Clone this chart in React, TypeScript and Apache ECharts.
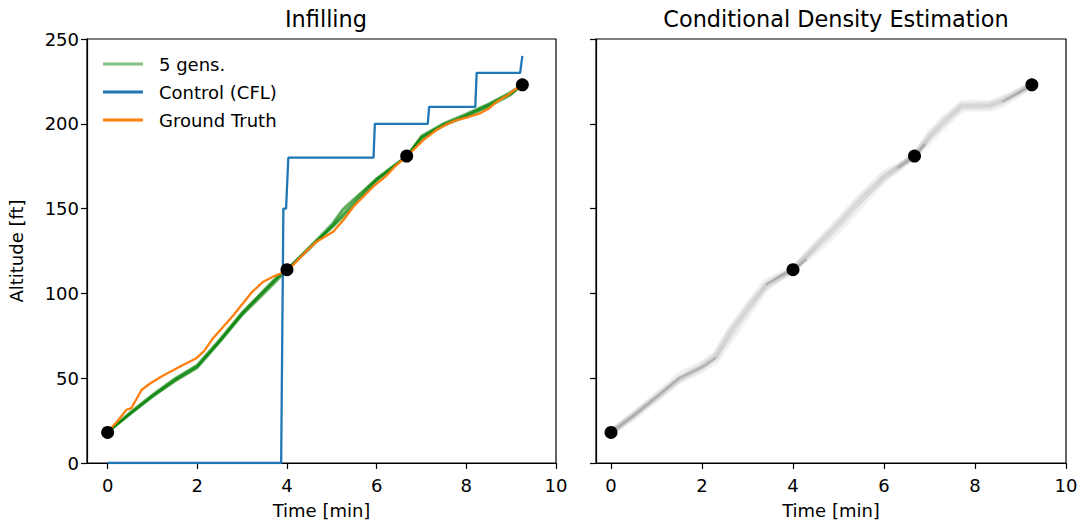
import React, { useEffect, useRef } from "react";
import * as echarts from "echarts";

// ---------- data ----------
const xTicks = [0, 2, 4, 6, 8, 10];

const obsTime = [0, 4, 6.67, 9.25];
const obsAlt = [18, 114, 181, 223];

const controlTime = [0, 3.87, 3.92, 3.98, 4.03, 5.93, 5.96, 7.14, 7.17, 8.2, 8.23, 9.2, 9.25];
const controlAlt = [0, 0, 150, 150, 180, 180, 200, 200, 210, 210, 230, 230, 240];

const truthTime = [0, 0.2, 0.42, 0.53, 0.76, 0.94, 1.2, 1.45, 1.69, 1.98, 2.15, 2.35, 2.58, 2.8, 3.02, 3.21, 3.47, 3.7, 3.92, 4, 4.14, 4.4, 4.66, 5.03, 5.25, 5.48, 5.7, 5.92, 6.2, 6.44, 6.68, 7.04, 7.33, 7.55, 7.78, 8.05, 8.3, 8.5, 8.67, 8.9, 9.12, 9.25];
const truthAlt = [18.6, 24, 31.4, 32.4, 43.2, 46.7, 51, 54.5, 57.9, 61.8, 66, 73.6, 80.4, 87, 94.2, 100.5, 106.9, 110, 112.3, 114, 116.8, 124, 130.5, 136.4, 143, 151.1, 157, 162.9, 169, 175.7, 181, 190.4, 196.3, 199.5, 202.2, 204, 206.1, 209, 212.9, 216.5, 220.8, 223];

const genTime = [0, 0.5, 1, 1.5, 2, 2.5, 3, 3.5, 3.8, 4, 4.5, 5, 5.25, 5.5, 6, 6.3, 6.67, 7, 7.5, 8, 8.5, 9, 9.25];
const gen1 = [18, 29, 39.5, 49, 57, 72, 88, 101, 109, 114, 127, 139, 146, 153, 167, 173, 181, 192, 199.5, 205, 211, 218, 223];
const gen2 = [18, 30, 40.5, 50, 58, 73, 89, 102, 110, 114, 126, 140, 149, 155, 168, 174, 181, 193, 200.5, 206, 212, 219, 223];
const gen3 = [18, 28.5, 39, 48, 56, 71, 87, 100, 108, 114, 127.5, 141, 150, 156, 167.5, 173.5, 181, 191, 199, 204.5, 210.5, 217.5, 223];
const gen4 = [18, 29.5, 40, 49.5, 57.5, 72.5, 88.5, 102.5, 110.5, 114, 126.5, 138.5, 145, 152, 166, 172.5, 181, 192.5, 200, 205.5, 211.5, 218.5, 223];
const gen5 = [18, 29, 39, 48.5, 56.5, 71.5, 87.5, 101.5, 109.5, 114, 127, 139.5, 147, 154, 167, 173, 181, 191.5, 199, 204, 210, 217, 223];
const gens = [gen1, gen2, gen3, gen4, gen5];

const densTime = [0, 0.5, 1, 1.5, 2, 2.3, 2.6, 3, 3.4, 4, 4.5, 5, 5.5, 6, 6.3, 6.67, 7, 7.3, 7.7, 8, 8.3, 8.6, 9, 9.25];
const densA = [18, 28, 39, 50, 56.5, 62, 75, 90, 105, 114, 127, 140, 155, 169, 174, 181, 192, 200, 210, 210, 210, 213, 219, 223];
const densB = [18, 29, 40, 52, 58.5, 64, 78, 93, 107, 114, 129, 143, 158, 171, 175, 181, 194, 203, 212, 212.5, 212, 215, 220, 223];
const densC = [18, 27, 37.5, 48.5, 55, 60, 72, 87, 103, 114, 125, 137, 152, 167, 173, 181, 190, 198, 208.5, 209, 209, 211.5, 218, 223];
const densD = [18, 28.5, 38.5, 49, 57, 63.5, 77, 91.5, 104, 114, 128, 141.5, 156, 168, 174.5, 181, 193, 201.5, 211, 211, 211.5, 214, 219.5, 223];
const densSamples = [densA, densB, densC, densD];
// darker core near the observations (null = gap)
const coreTime = [0, 0.5, 1, 1.5, 2, 2.3, 2.35, 3.4, 3.7, 4, 4.3, 4.35, 6.3, 6.67, 6.9, 6.95, 8.6, 9, 9.25];
const coreAlt = [18, 28, 39, 50, 56.5, 62, null, 105, 110, 114, 120, null, 174, 181, 188, null, 213, 219, 223];

// ---------- helpers ----------
const zip = (xs: number[], ys: (number | null)[]) => xs.map((x, i) => [x, ys[i] === null ? "-" : ys[i]]);
const FONT = "DejaVu Sans";

export default function App() {
  const ref = useRef<HTMLDivElement>(null);

  useEffect(() => {
    if (!ref.current) return;
    const chart = echarts.init(ref.current, undefined, { renderer: "svg" });

    const xAxisBase = (idx: number, min: number) => ({
      gridIndex: idx,
      type: "value",
      min,
      max: 10,
      axisLine: { show: true, onZero: false, lineStyle: { color: "#000", width: 1.2 } },
      axisTick: { show: true, length: 6, customValues: xTicks, lineStyle: { color: "#000", width: 1.2 } },
      axisLabel: { show: true, customValues: xTicks, color: "#000", fontSize: 18, fontFamily: FONT, margin: 13 },
      splitLine: { show: false },
      name: "Time [min]",
      nameLocation: "middle",
      nameGap: 38,
      nameTextStyle: { color: "#000", fontSize: 18, fontFamily: FONT },
    });

    const yAxisBase = (idx: number, labels: boolean) => ({
      gridIndex: idx,
      type: "value",
      min: 0,
      max: 250,
      interval: 50,
      axisLine: { show: true, onZero: false, lineStyle: { color: "#000", width: 1.2 } },
      axisTick: { show: true, length: 6, lineStyle: { color: "#000", width: 1.2 } },
      axisLabel: { show: labels, color: "#000", fontSize: 18, fontFamily: FONT, margin: 8 },
      splitLine: { show: false },
      name: labels ? "Altitude [ft]" : "",
      nameLocation: "middle",
      nameGap: 62,
      nameTextStyle: { color: "#000", fontSize: 18, fontFamily: FONT },
    });

    const series: any[] = [];
    gens.forEach((g) => {
      series.push({
        name: "5 gens.",
        type: "line",
        xAxisIndex: 0,
        yAxisIndex: 0,
        data: zip(genTime, g),
        showSymbol: false,
        symbol: "none",
        itemStyle: { color: "rgba(0,128,0,0.5)" },
        lineStyle: { color: "rgba(0,128,0,0.5)", width: 2.3 },
        z: 2,
      });
    });
    series.push({
      name: "Control (CFL)",
      type: "line",
      xAxisIndex: 0,
      yAxisIndex: 0,
      data: zip(controlTime, controlAlt),
      showSymbol: false,
      symbol: "none",
      itemStyle: { color: "#1f77b4" },
      lineStyle: { color: "#1f77b4", width: 2.3 },
      z: 3,
    });
    series.push({
      name: "Ground Truth",
      type: "line",
      xAxisIndex: 0,
      yAxisIndex: 0,
      data: zip(truthTime, truthAlt),
      showSymbol: false,
      symbol: "none",
      itemStyle: { color: "#ff7f0e" },
      lineStyle: { color: "#ff7f0e", width: 2.3 },
      z: 4,
    });
    series.push({
      name: "obs-left",
      type: "scatter",
      xAxisIndex: 0,
      yAxisIndex: 0,
      data: zip(obsTime, obsAlt),
      symbolSize: 13,
      itemStyle: { color: "#000", opacity: 1 },
      z: 5,
    });
    densSamples.forEach((d) => {
      series.push({
        name: "density",
        type: "line",
        xAxisIndex: 1,
        yAxisIndex: 1,
        data: zip(densTime, d),
        showSymbol: false,
        symbol: "none",
        lineStyle: {
          color: "rgba(0,0,0,0.05)",
          width: 6,
          shadowBlur: 9,
          shadowColor: "rgba(0,0,0,0.12)",
        },
        z: 2,
      });
    });
    series.push({
      name: "density-core",
      type: "line",
      xAxisIndex: 1,
      yAxisIndex: 1,
      data: zip(coreTime, coreAlt),
      connectNulls: false,
      showSymbol: false,
      symbol: "none",
      lineStyle: {
        color: "rgba(0,0,0,0.14)",
        width: 2.5,
        shadowBlur: 3,
        shadowColor: "rgba(0,0,0,0.15)",
      },
      z: 3,
    });
    series.push({
      name: "obs-right",
      type: "scatter",
      xAxisIndex: 1,
      yAxisIndex: 1,
      data: zip(obsTime, obsAlt),
      symbolSize: 13,
      itemStyle: { color: "#000", opacity: 1 },
      z: 5,
    });

    chart.setOption({
      animation: false,
      backgroundColor: "#fff",
      title: [
        { text: "Infilling", left: 321, top: 3, textAlign: "center", textStyle: { color: "#000", fontSize: 22.4, fontWeight: "normal", fontFamily: FONT } },
        { text: "Conditional Density Estimation", left: 831, top: 3, textAlign: "center", textStyle: { color: "#000", fontSize: 22.4, fontWeight: "normal", fontFamily: FONT } },
      ],
      legend: {
        show: true,
        orient: "vertical",
        left: 98,
        top: 49,
        itemWidth: 40,
        itemHeight: 3,
        itemGap: 8,
        icon: "rect",
        data: ["5 gens.", "Control (CFL)", "Ground Truth"],
        textStyle: { color: "#000", fontSize: 18, fontFamily: FONT, lineHeight: 20, padding: [0, 0, 0, 11] },
        selectedMode: false,
      },
      grid: [
        { left: 87, top: 39, width: 469, height: 424, show: true, borderColor: "#000", borderWidth: 1.2, backgroundColor: "transparent" },
        { left: 596, top: 39, width: 470, height: 424, show: true, borderColor: "#000", borderWidth: 1.2, backgroundColor: "transparent" },
      ],
      xAxis: [xAxisBase(0, -0.46), xAxisBase(1, -0.33)],
      yAxis: [yAxisBase(0, true), yAxisBase(1, false)],
      series,
    });

    return () => chart.dispose();
  }, []);

  return <div ref={ref} style={{ position: "fixed", left: 0, top: 0, width: 1086, height: 528 }} />;
}
